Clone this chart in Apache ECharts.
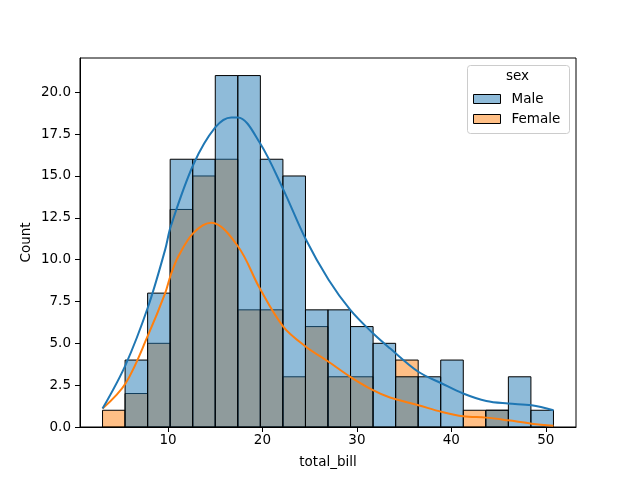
<!DOCTYPE html>
<html>
<head>
<meta charset="utf-8">
<script src="https://cdn.jsdelivr.net/npm/echarts@6/dist/echarts.min.js"></script>
<style>
  html, body { margin: 0; padding: 0; background: #fff; }
  #chart { width: 640px; height: 480px; }
</style>
</head>
<body>
<div id="chart"></div>
<script>
// histogram bins (total_bill), 20 bins from min to max
var binStart = 3.07;
var binWidth = 2.387;
var maleCounts   = [0, 4, 8, 16, 16, 21, 21, 16, 15, 7, 7, 6, 5, 3, 3, 4, 0, 1, 3, 1];
var femaleCounts = [1, 2, 5, 13, 15, 16, 7, 7, 3, 6, 3, 3, 0, 4, 0, 0, 1, 1, 0, 0];

// kde curves (count scale)
var maleKdeX = [3.07, 5.5, 7.9, 9.7, 10.3, 12.7, 15.0, 16.7, 17.4, 19.7, 22.2, 24.6, 27.0, 29.3, 31.7, 33.5, 36.5, 39.0, 41.25, 43.7, 46.0, 48.5, 50.81];
var maleKdeY = [1.1, 3.7, 7.2, 10.6, 12.0, 15.7, 17.9, 18.5, 18.5, 17.0, 14.2, 11.2, 8.8, 7.0, 5.6, 4.7, 3.3, 2.6, 2.0, 1.55, 1.4, 1.3, 1.0];
var femaleKdeX = [3.07, 5.5, 7.9, 9.7, 10.3, 11.1, 12.7, 14.6, 17.4, 19.7, 22.2, 24.6, 27.0, 29.3, 31.7, 33.5, 36.5, 39.0, 41.25, 43.7, 46.0, 48.5, 50.81];
var femaleKdeY = [1.1, 2.6, 5.5, 8.0, 9.1, 10.2, 11.6, 12.2, 10.8, 8.3, 6.0, 4.8, 3.9, 3.0, 2.2, 1.76, 1.3, 0.9, 0.64, 0.56, 0.4, 0.2, 0.07];

var xTicks = [10, 20, 30, 40, 50];
var yTicks = [0, 2.5, 5, 7.5, 10, 12.5, 15, 17.5, 20];

(function() {
  var myChart = echarts.init(document.getElementById('chart'));
  var font = 'DejaVu Sans';

  function binData(counts) {
    var out = [];
    for (var i = 0; i < counts.length; i++) {
      if (counts[i] > 0) {
        out.push([binStart + i * binWidth, binStart + (i + 1) * binWidth, counts[i]]);
      }
    }
    return out;
  }

  function zip(xs, ys) {
    var out = [];
    for (var i = 0; i < xs.length; i++) out.push([xs[i], ys[i]]);
    return out;
  }

  function barRenderer(fill) {
    return function(params, api) {
      var p0 = api.coord([api.value(0), api.value(2)]);
      var p1 = api.coord([api.value(1), 0]);
      return {
        type: 'rect',
        shape: { x: p0[0], y: p0[1], width: p1[0] - p0[0], height: p1[1] - p0[1] },
        style: { fill: fill, stroke: '#000', lineWidth: 1 }
      };
    };
  }

  var blueFill = 'rgba(31,119,180,0.5)';
  var orangeFill = 'rgba(255,127,14,0.5)';

  var option = {
    animation: false,
    grid: {
      left: 80, right: 64, top: 58, bottom: 53,
      show: true, borderColor: '#000', borderWidth: 1, backgroundColor: 'transparent'
    },
    graphic: [
      {
        type: 'rect', left: 467, top: 65, z: 50,
        shape: { width: 102, height: 68, r: 3 },
        style: { fill: 'rgba(255,255,255,0.8)', stroke: '#cccccc', lineWidth: 1 }
      },
      {
        type: 'text', left: 506, top: 69, z: 51,
        style: { text: 'sex', fill: '#000', font: '13.5px "DejaVu Sans"' }
      }
    ],
    legend: {
      left: 468, top: 87, orient: 'vertical', z: 52,
      itemWidth: 27, itemHeight: 9, itemGap: 6,
      textStyle: { fontFamily: font, fontSize: 13.5, color: '#000', padding: [0, 0, 0, 6] },
      data: [
        { name: 'Male', icon: 'rect', itemStyle: { color: blueFill, borderColor: '#000', borderWidth: 1 } },
        { name: 'Female', icon: 'rect', itemStyle: { color: orangeFill, borderColor: '#000', borderWidth: 1 } }
      ]
    },
    xAxis: {
      type: 'value', min: 0.683, max: 53.197,
      name: 'total_bill', nameLocation: 'middle', nameGap: 28,
      nameTextStyle: { fontFamily: font, fontSize: 13.5, color: '#000' },
      axisLine: { show: true, onZero: false, lineStyle: { color: '#000', width: 1 } },
      axisTick: { show: true, length: 5, customValues: xTicks, lineStyle: { color: '#000' } },
      axisLabel: { customValues: xTicks, margin: 6, fontFamily: font, fontSize: 13.5, color: '#000' },
      splitLine: { show: false }
    },
    yAxis: {
      type: 'value', min: 0, max: 22.05,
      name: 'Count', nameLocation: 'middle', nameGap: 47, nameMoveOverlap: false,
      nameTextStyle: { fontFamily: font, fontSize: 13.5, color: '#000' },
      axisLine: { show: true, lineStyle: { color: '#000', width: 1 } },
      axisTick: { show: true, length: 5, customValues: yTicks, lineStyle: { color: '#000' } },
      axisLabel: {
        customValues: yTicks, margin: 9, fontFamily: font, fontSize: 13.5, color: '#000',
        formatter: function(v) { return v.toFixed(1); }
      },
      splitLine: { show: false }
    },
    series: [
      {
        name: 'Female', type: 'custom', z: 2,
        renderItem: barRenderer(orangeFill),
        itemStyle: { color: orangeFill },
        encode: { x: [0, 1], y: 2 },
        data: binData(femaleCounts)
      },
      {
        name: 'Male', type: 'custom', z: 3,
        renderItem: barRenderer(blueFill),
        itemStyle: { color: blueFill },
        encode: { x: [0, 1], y: 2 },
        data: binData(maleCounts)
      },
      {
        name: 'Female kde', type: 'line', z: 4, smooth: 0.35, showSymbol: false,
        lineStyle: { color: '#ff7f0e', width: 2 },
        data: zip(femaleKdeX, femaleKdeY)
      },
      {
        name: 'Male kde', type: 'line', z: 5, smooth: 0.35, showSymbol: false,
        lineStyle: { color: '#1f77b4', width: 2 },
        data: zip(maleKdeX, maleKdeY)
      }
    ]
  };

  myChart.setOption(option);
  window.addEventListener('resize', function() {
    myChart.resize();
  });
})();
</script>
</body>
</html>
